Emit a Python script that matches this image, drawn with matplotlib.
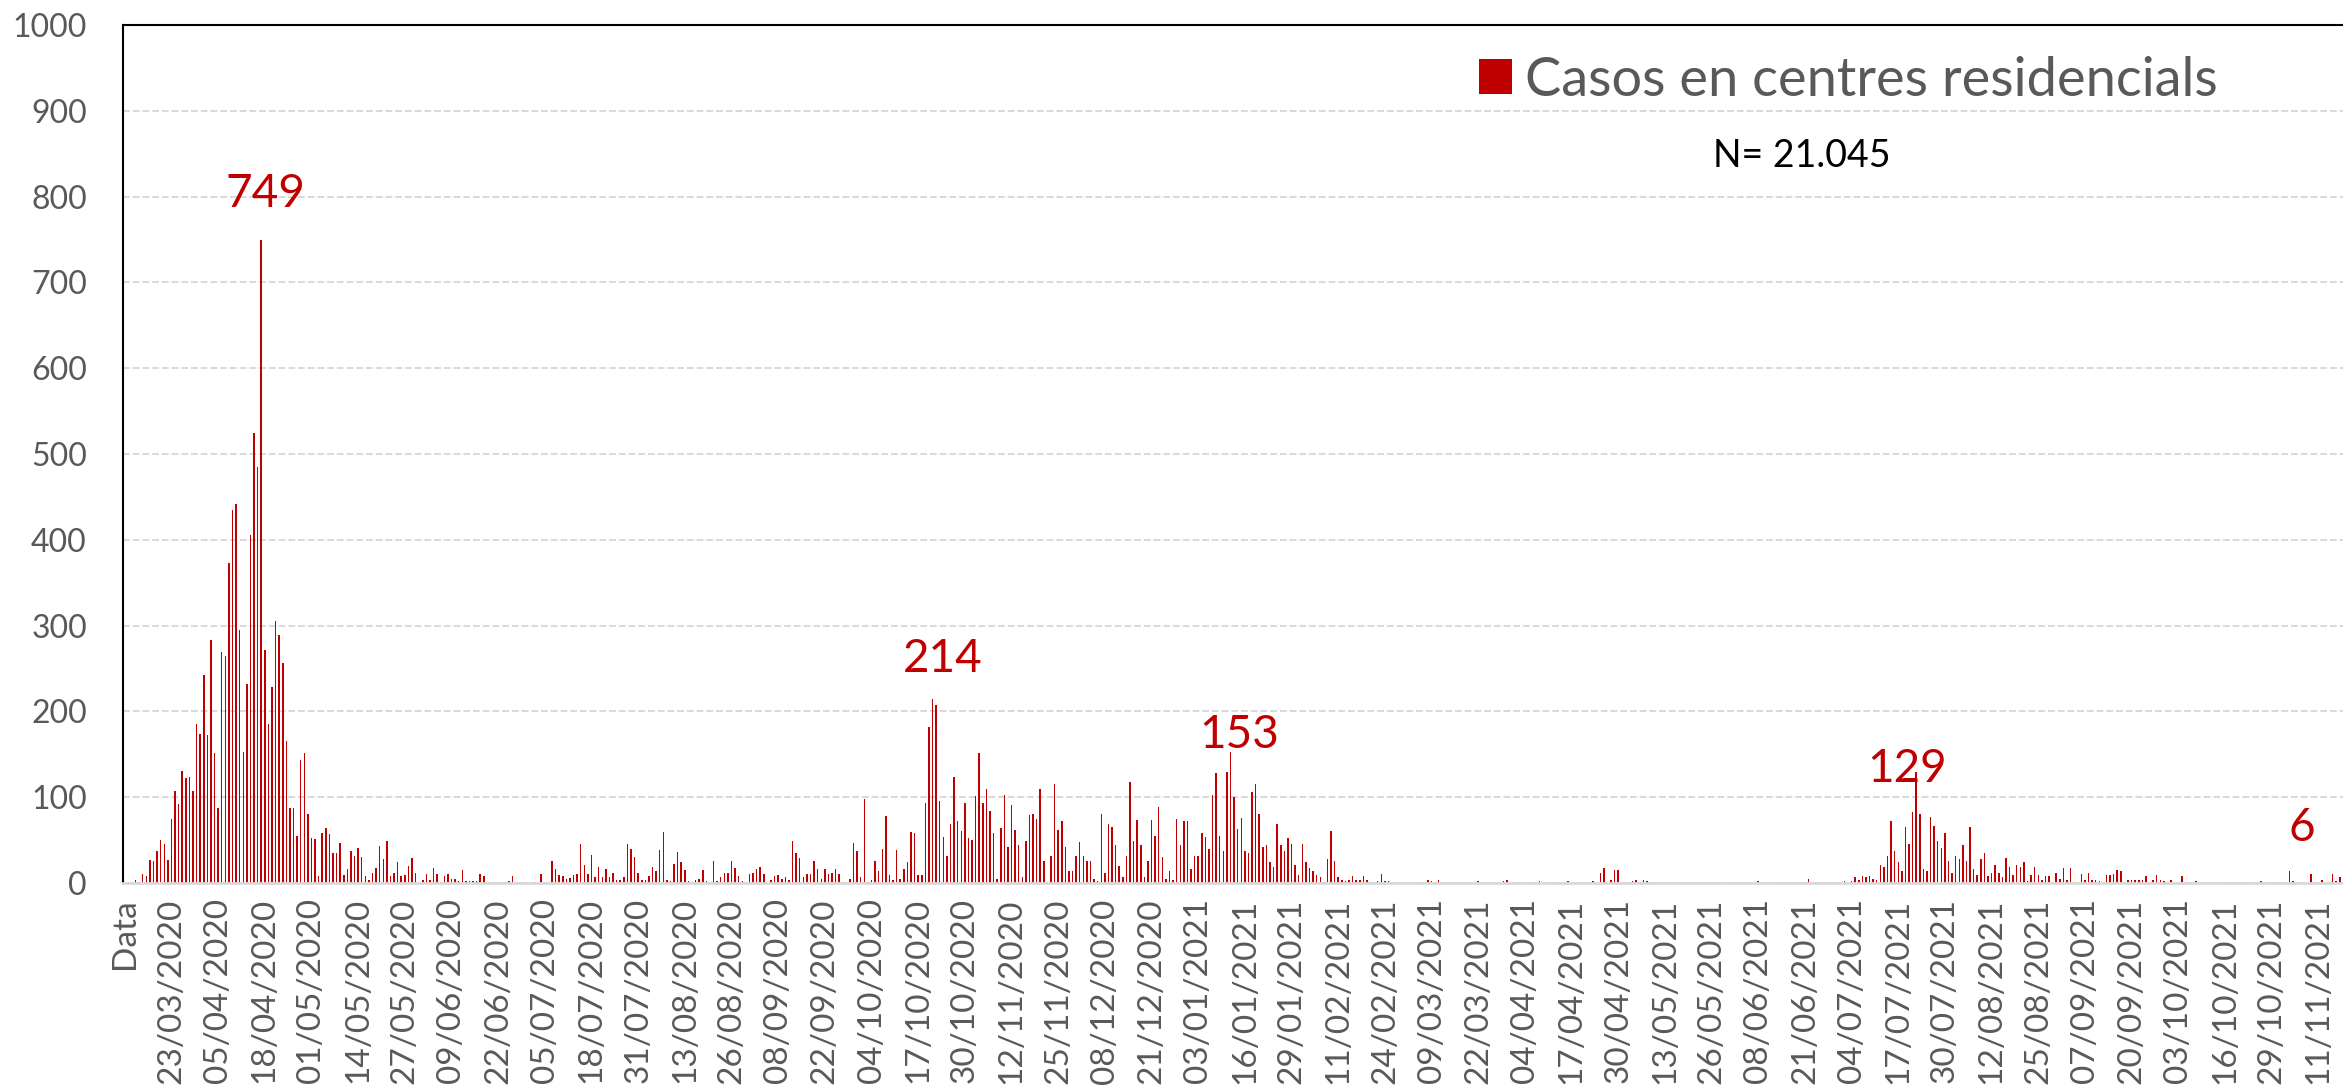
import numpy as np
import pandas as pd
import matplotlib
matplotlib.use("Agg")
import matplotlib.pyplot as plt
from matplotlib.patches import Patch

# daily cases in care homes, first bar is 11/03/2020
first_day = "2020-03-11"

wave1 = [1, 0, 4, 1, 10, 8, 27, 26, 37, 50,
         45, 27, 75, 107, 92, 130, 122, 124, 107, 185,
         174, 243, 173, 283, 152, 87, 269, 264, 373, 435,
         442, 295, 153, 232, 406, 524, 485, 749, 272, 185,
         228, 305, 289, 256, 165, 87, 87, 55, 143, 152,
         81, 53, 51, 8, 58, 64, 57, 35, 35, 47,
         9, 16, 37, 31, 41, 30, 8, 3, 12, 17,
         43, 28, 49, 8, 12, 24, 8, 9, 20, 29,
         12, 0, 4, 11, 4, 18, 11, 1, 8, 10]

summer_2020 = [5, 5, 2, 15, 2, 2, 2, 2, 10, 8,
               0, 0, 0, 0, 1, 1, 2, 8, 0, 0,
               0, 0, 0, 1, 0, 10, 0, 0, 26, 16,
               9, 8, 5, 6, 9, 10, 46, 21, 10, 33,
               7, 19, 7, 16, 7, 12, 4, 4, 7, 46,
               40, 30, 12, 3, 3, 8, 19, 14, 38, 60,
               3, 2, 22, 36, 25, 15, 2, 0, 3, 5,
               15, 2, 0, 26, 2, 7, 12, 12, 26, 17,
               8, 2, 0, 10, 12, 16, 19, 10, 0, 4,
               8, 9, 5, 7, 3, 49, 35, 29, 7, 10,
               10, 26, 16, 5, 16, 10, 12, 16, 10]

wave2 = [1, 0, 5, 47, 37, 7, 98, 1, 3, 26,
         14, 40, 78, 9, 3, 38, 5, 16, 24, 60,
         58, 9, 9, 93, 182, 214, 207, 95, 54, 31,
         69, 123, 72, 61, 93, 53, 50, 101, 152, 93,
         110, 84, 58, 5, 64, 103, 42, 91, 62, 44,
         7, 49, 79, 81, 75, 109, 26, 1, 32, 115,
         62, 72, 42, 14, 14, 32, 48, 31, 26, 26,
         5, 2, 80, 12, 69, 65, 44, 20, 7, 31,
         118, 49, 74, 44, 7, 26, 73, 55, 88, 30,
         5, 14, 3, 75, 44, 72, 72, 16, 32, 31,
         58, 54, 40, 103, 128, 55, 37, 129, 153, 100,
         63, 76, 37, 35, 106, 115, 80, 42, 44, 24,
         19, 69, 44, 37, 52, 45, 21, 9, 45, 24,
         17, 14, 9, 7, 1, 28, 61, 26, 7]

spring_2021 = [3, 2, 3, 8, 4, 4, 8, 3, 0, 0,
               2, 10, 2, 2, 0, 0, 0, 0, 0, 0,
               0, 0, 0, 0, 3, 2, 0, 3, 0, 0,
               0, 0, 0, 0, 0, 0, 0, 0, 2, 0,
               0, 0, 0, 0, 0, 2, 4, 0, 0, 0,
               0, 0, 0, 0, 0, 2, 0, 0, 0, 0,
               0, 0, 0, 2, 0, 0, 0, 0, 0, 0,
               2, 0, 12, 17, 0, 3, 15, 15, 0, 0,
               0, 2, 4, 0, 3, 2, 0, 0, 0, 0,
               0, 0, 0, 0, 0, 0, 0, 0, 0, 0,
               0, 0, 0, 0, 0, 0, 0, 0, 0, 0,
               0, 0, 0, 0, 0, 0, 2, 0, 0, 0,
               0, 0, 0, 0, 0, 0, 0, 0, 0, 0,
               5, 0, 0, 0, 0, 0, 0, 0, 0, 0]

summer_2021 = [2, 0, 2, 7, 3, 8, 7, 8, 5, 3,
               21, 19, 31, 72, 37, 24, 14, 65, 46, 83,
               129, 81, 16, 14, 77, 67, 49, 41, 58, 26,
               12, 32, 28, 44, 26, 65, 16, 9, 28, 35,
               8, 12, 21, 12, 7, 29, 19, 9, 21, 19,
               25, 2, 9, 19, 9, 4, 8, 8, 0, 12,
               5, 17, 4, 18, 0, 0, 10, 4, 12, 3,
               3, 2, 0, 9, 9, 10, 15, 14, 0, 3,
               3, 4, 3, 3, 8, 0, 3, 9, 4, 2,
               0, 3, 0, 0, 8, 0, 0, 0, 2, 0,
               0, 0, 0, 0, 0, 0, 0, 0, 0, 0,
               0, 0, 0, 0, 0, 0, 2, 0, 0, 0,
               0, 0, 0, 0, 14, 2, 0, 0, 0, 0,
               10, 0, 0, 3, 0, 0, 10, 2, 7]

# every 13th category label as it appears on the axis
tick_labels = ["Data", "23/03/2020", "05/04/2020", "18/04/2020", "01/05/2020",
               "14/05/2020", "27/05/2020", "09/06/2020", "22/06/2020", "05/07/2020",
               "18/07/2020", "31/07/2020", "13/08/2020", "26/08/2020", "08/09/2020",
               "22/09/2020", "04/10/2020", "17/10/2020", "30/10/2020", "12/11/2020",
               "25/11/2020", "08/12/2020", "21/12/2020", "03/01/2021", "16/01/2021",
               "29/01/2021", "11/02/2021", "24/02/2021", "09/03/2021", "22/03/2021",
               "04/04/2021", "17/04/2021", "30/04/2021", "13/05/2021", "26/05/2021",
               "08/06/2021", "21/06/2021", "04/07/2021", "17/07/2021", "30/07/2021",
               "12/08/2021", "25/08/2021", "07/09/2021", "20/09/2021", "03/10/2021",
               "16/10/2021", "29/10/2021", "11/11/2021"]

series_name = "Casos en centres residencials"
total_text = "N= 21.045"

# labels written on the chart
label_dates = ["17/04/2020", "21/10/2020", "12/01/2021", "22/07/2021", "06/11/2021"]
label_texts = ["749", "214", "153", "129", "6"]
label_offsets = [(3, 24), (7, 20), (6.5, 3), (-6.5, -7), (1, 30)]  # points

cases = wave1 + summer_2020 + wave2 + spring_2021 + summer_2021
dates = pd.date_range(first_day, periods=len(cases), freq="D")
# the sheet header "Data" ended up as the first category
categories = ["Data"] + [d.strftime("%d/%m/%Y") for d in dates]
values = [0] + cases
x = np.arange(len(categories))

plt.rcParams["font.family"] = ["Lato", "DejaVu Sans"]
red = "#C00000"
grey = "#595959"

W, H = 2343, 1088
fig = plt.figure(figsize=(W / 100, H / 100), dpi=100)
ax = fig.add_axes([123 / W, 205 / H, 1 - 123 / W, 858 / H])

ax.bar(x, values, width=0.42, color=red, zorder=3)

ax.set_ylim(0, 1000)
ax.set_yticks(np.arange(0, 1001, 100))
ax.set_xlim(-0.5, -0.5 + (W - 123) / 3.59)
ax.set_xticks(x[::13])
ax.set_xticklabels(tick_labels, rotation=90)
ax.tick_params(axis="x", length=0, pad=11, labelsize=24, labelcolor=grey)
ax.tick_params(axis="y", length=0, pad=26, labelsize=23, labelcolor=grey)

ax.yaxis.grid(True, color="#D9D9D9", linewidth=1.4, dashes=(3.5, 1.5), zorder=0)
ax.set_axisbelow(True)
ax.spines["right"].set_visible(False)
ax.spines["top"].set_linewidth(1.5)
ax.spines["left"].set_linewidth(1.5)
ax.spines["bottom"].set_color("#D9D9D9")
ax.spines["bottom"].set_linewidth(2)
ax.spines["bottom"].set_zorder(4)

for d, txt, (dx, dy) in zip(label_dates, label_texts, label_offsets):
    i = categories.index(d)
    ax.annotate(txt, (x[i], values[i]), xytext=(dx, dy), textcoords="offset points",
                ha="center", va="baseline", color=red, fontsize=33, zorder=5)

leg = ax.legend([Patch(facecolor=red, edgecolor="none")], [series_name],
                loc="center left", bbox_to_anchor=(1479 / W, 1 - 80 / H),
                bbox_transform=fig.transFigure, frameon=False, fontsize=39,
                labelcolor=grey, handlelength=0.6, handleheight=0.6,
                handletextpad=0.25, borderpad=0, borderaxespad=0)

fig.text(1802 / W, 1 - 167 / H, total_text, ha="center", va="baseline",
         fontsize=27, color="black")

fig.savefig("out.png", dpi=100)
